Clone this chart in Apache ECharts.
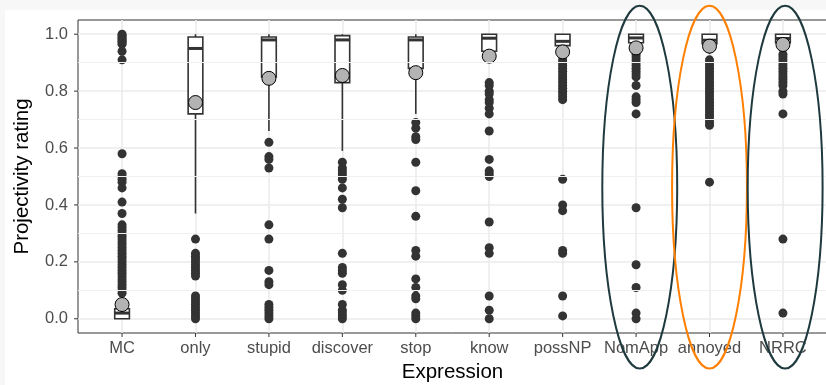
<!DOCTYPE html>
<html>
<head>
<meta charset="utf-8">
<script src="https://cdn.jsdelivr.net/npm/echarts@6/dist/echarts.min.js"></script>
<style>
  html, body { margin: 0; padding: 0; width: 826px; height: 385px; background: #f7f7f7; overflow: hidden; }
  #paper { position: absolute; left: 5px; top: 10px; right: 0; bottom: 0; background: #ffffff; }
  #chart { position: absolute; left: 0; top: 0; width: 826px; height: 385px; }
</style>
</head>
<body>
<div id="paper"></div>
<div id="chart"></div>
<script>
// Expressions on the x axis
const categories = ['MC', 'only', 'stupid', 'discover', 'stop', 'know', 'possNP', 'NomApp', 'annoyed', 'NRRC'];

// Box-and-whisker summaries per expression
const whiskerLow  = [0.00, 0.37, 0.66, 0.59, 0.72, 0.90, 0.93, 0.95, 0.93, 0.95];
const quartile1   = [0.00, 0.72, 0.85, 0.83, 0.88, 0.94, 0.96, 0.97, 0.967, 0.97];
const medians     = [0.02, 0.95, 0.98, 0.98, 0.98, 0.986, 0.975, 0.987, 0.979, 0.985];
const quartile3   = [0.035, 0.99, 0.99, 0.995, 0.99, 1.00, 1.00, 1.00, 1.00, 1.00];
const whiskerHigh = [0.0875, 1.00, 1.00, 1.00, 1.00, 1.00, 1.00, 1.00, 1.00, 1.00];

// Mean projectivity rating per expression
const means = [0.05, 0.76, 0.845, 0.855, 0.865, 0.923, 0.938, 0.952, 0.958, 0.964];

// Outlying ratings per expression
const mcOutliers = [1.0, 0.995, 0.99, 0.985, 0.98, 0.975, 0.97, 0.965, 0.94, 0.91, 0.58, 0.51, 0.50, 0.49, 0.48, 0.46, 0.41, 0.37,
  0.33, 0.32, 0.31, 0.30, 0.29, 0.28, 0.27, 0.26, 0.25, 0.24, 0.23, 0.22, 0.21, 0.20, 0.19, 0.18, 0.17, 0.16, 0.15, 0.14, 0.13, 0.12, 0.11, 0.10, 0.09];
const onlyOutliers = [0.28, 0.23, 0.22, 0.21, 0.20, 0.19, 0.18, 0.17, 0.16, 0.15, 0.08, 0.07, 0.06, 0.05, 0.04, 0.03, 0.02, 0.01, 0.0];
const stupidOutliers = [0.62, 0.57, 0.56, 0.53, 0.33, 0.28, 0.17, 0.13, 0.12, 0.05, 0.04, 0.03, 0.02, 0.01, 0.0];
const discoverOutliers = [0.55, 0.53, 0.52, 0.51, 0.50, 0.49, 0.46, 0.42, 0.39, 0.23, 0.18, 0.17, 0.16, 0.12, 0.10, 0.05, 0.03, 0.02, 0.01, 0.0];
const stopOutliers = [0.69, 0.67, 0.64, 0.63, 0.55, 0.45, 0.36, 0.24, 0.22, 0.14, 0.11, 0.08, 0.07, 0.02, 0.01, 0.0];
const knowOutliers = [0.83, 0.82, 0.80, 0.79, 0.77, 0.76, 0.74, 0.72, 0.66, 0.56, 0.52, 0.51, 0.50, 0.34, 0.25, 0.23, 0.08, 0.03, 0.0];
const possNPOutliers = [0.91, 0.90, 0.89, 0.88, 0.87, 0.86, 0.85, 0.84, 0.83, 0.82, 0.81, 0.80, 0.79, 0.78, 0.77, 0.49, 0.40, 0.38, 0.24, 0.23, 0.08, 0.01];
const nomAppOutliers = [0.93, 0.92, 0.91, 0.90, 0.89, 0.88, 0.87, 0.86, 0.85, 0.82, 0.78, 0.77, 0.76, 0.72, 0.39, 0.19, 0.11, 0.02, 0.0];
const annoyedOutliers = [0.91, 0.90, 0.89, 0.88, 0.87, 0.86, 0.85, 0.84, 0.83, 0.82, 0.81, 0.80, 0.79, 0.78, 0.77, 0.76, 0.75, 0.74,
  0.73, 0.72, 0.71, 0.70, 0.69, 0.68, 0.48];
const nrrcOutliers = [0.93, 0.92, 0.91, 0.90, 0.89, 0.88, 0.87, 0.86, 0.85, 0.84, 0.83, 0.82, 0.80, 0.79, 0.72, 0.28, 0.02];

// Tick values
const yTicks = [0, 0.2, 0.4, 0.6, 0.8, 1.0];
const yMinorTicks = [0.1, 0.3, 0.5, 0.7, 0.9];

// Expressions circled for emphasis, with their outline colours and horizontal nudges
const circled = ['NomApp', 'annoyed', 'NRRC'];
const circleColors = ['#1f3a3e', '#ff7f00', '#1f3a3e'];
const circleNudge = [0.05, 0.0, 0.03];

const outlierGroups = [mcOutliers, onlyOutliers, stupidOutliers, discoverOutliers, stopOutliers,
  knowOutliers, possNPOutliers, nomAppOutliers, annoyedOutliers, nrrcOutliers];

const xIndex = categories.map((c, i) => i);
const outlierData = [];
outlierGroups.forEach((vals, i) => vals.forEach(v => outlierData.push([i, v])));
const boxData = xIndex.map(i => [i, whiskerLow[i], quartile1[i], medians[i], quartile3[i], whiskerHigh[i]]);
const meanData = xIndex.map(i => [i, means[i]]);

const FONT = "'Liberation Sans', Arial, sans-serif";
const INK = '#333333';
const BOX_WIDTH = 0.2;

const chart = echarts.init(document.getElementById('chart'), null, { renderer: 'canvas' });

chart.setOption({
  animation: false,
  backgroundColor: 'transparent',
  grid: {
    left: 78, right: -1, top: 20, bottom: 52, containLabel: false, outerBoundsMode: 'none',
    show: true, backgroundColor: '#ffffff', borderColor: INK, borderWidth: 1
  },
  xAxis: {
    type: 'value', min: -0.6, max: 9.6,
    name: 'Expression', nameLocation: 'middle', nameGap: 28,
    nameTextStyle: { fontFamily: FONT, fontSize: 20.5, color: '#000' },
    axisLine: { show: false },
    axisTick: { show: false, customValues: xIndex },
    axisLabel: {
      show: true, customValues: xIndex, margin: 7,
      fontFamily: FONT, fontSize: 16.5, color: '#4d4d4d',
      formatter: v => categories[Math.round(v)] || ''
    },
    splitLine: { show: true, lineStyle: { color: '#ebebeb', width: 1.6 } }
  },
  yAxis: {
    type: 'value', min: -0.05, max: 1.05,
    name: 'Projectivity rating', nameLocation: 'middle', nameGap: 45, nameRotate: 90,
    nameTextStyle: { fontFamily: FONT, fontSize: 20.5, color: '#000' },
    axisLine: { show: false },
    axisTick: { show: false, customValues: yTicks },
    axisLabel: {
      show: true, customValues: yTicks, margin: 10,
      fontFamily: FONT, fontSize: 16.5, color: '#4d4d4d',
      formatter: v => Number(v).toFixed(1)
    },
    splitLine: { show: true, lineStyle: { color: '#ebebeb', width: 1.6 } }
  },
  series: [{
    // minor horizontal grid lines
    type: 'line',
    z: 1,
    data: [],
    silent: true,
    markLine: {
      silent: true,
      symbol: ['none', 'none'],
      label: { show: false },
      lineStyle: { color: '#f0f0f0', width: 1, type: 'solid' },
      data: yMinorTicks.map(v => ({ yAxis: v }))
    }
  }, {
    // outlying ratings
    type: 'scatter',
    z: 2,
    data: outlierData,
    symbol: 'circle',
    symbolSize: 9,
    itemStyle: { color: INK, opacity: 1 },
    silent: true
  }, {
    // boxes, medians and whiskers
    type: 'custom',
    z: 3,
    data: boxData,
    encode: { x: 0, y: [1, 2, 3, 4, 5] },
    renderItem: function (params, api) {
      const x = api.value(0);
      const lo = api.coord([x, api.value(1)]);
      const q1 = api.coord([x, api.value(2)]);
      const md = api.coord([x, api.value(3)]);
      const q3 = api.coord([x, api.value(4)]);
      const hi = api.coord([x, api.value(5)]);
      const half = api.size([BOX_WIDTH, 0])[0] / 2;
      const line = { stroke: INK, lineWidth: 1.6 };
      return {
        type: 'group',
        children: [
          { type: 'line', shape: { x1: lo[0], y1: lo[1], x2: q1[0], y2: q1[1] }, style: line },
          { type: 'line', shape: { x1: q3[0], y1: q3[1], x2: hi[0], y2: hi[1] }, style: line },
          { type: 'rect', shape: { x: q1[0] - half, y: q3[1], width: 2 * half, height: Math.max(q1[1] - q3[1], 1) },
            style: { fill: '#ffffff', stroke: INK, lineWidth: 1.6 } },
          { type: 'line', shape: { x1: md[0] - half, y1: md[1], x2: md[0] + half, y2: md[1] },
            style: { stroke: INK, lineWidth: 3 } }
        ]
      };
    },
    silent: true
  }, {
    // means
    type: 'scatter',
    z: 4,
    data: meanData,
    symbol: 'circle',
    symbolSize: 14,
    itemStyle: { color: '#b3b3b3', borderColor: '#000', borderWidth: 1, opacity: 1 },
    silent: true
  }]
});

// Tick marks outside the panel and outline ellipses around the emphasized expressions
function drawExtras() {
  const toPx = v => chart.convertToPixel({ xAxisIndex: 0, yAxisIndex: 0 }, v);
  const rect = chart.getModel().getComponent('grid', 0).coordinateSystem.getRect();
  const elements = [];
  yTicks.forEach(v => {
    const y = toPx([0, v])[1];
    elements.push({ type: 'line', silent: true, z: 5,
      shape: { x1: rect.x - 4, y1: y, x2: rect.x, y2: y }, style: { stroke: INK, lineWidth: 1 } });
  });
  xIndex.forEach(i => {
    const x = toPx([i, 0])[0];
    const yb = rect.y + rect.height;
    elements.push({ type: 'line', silent: true, z: 5,
      shape: { x1: x, y1: yb, x2: x, y2: yb + 4 }, style: { stroke: INK, lineWidth: 1 } });
  });
  circled.forEach((name, k) => {
    const i = categories.indexOf(name) + circleNudge[k];
    const top = toPx([i, 1.10]);
    const bottom = toPx([i, -0.175]);
    const side = toPx([i + 0.51, 0]);
    elements.push({
      type: 'ellipse', z: 100, silent: true,
      shape: { cx: top[0], cy: (top[1] + bottom[1]) / 2, rx: side[0] - top[0], ry: (bottom[1] - top[1]) / 2 },
      style: { fill: null, stroke: circleColors[k], lineWidth: 2 }
    });
  });
  chart.setOption({ graphic: elements });
}
drawExtras();
</script>
</body>
</html>
